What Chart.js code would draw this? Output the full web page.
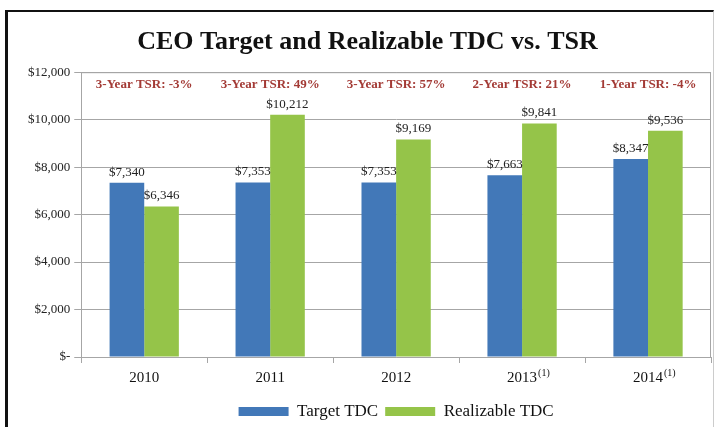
<!DOCTYPE html>
<html>
<head>
<meta charset="utf-8">
<script src="https://cdn.jsdelivr.net/npm/chart.js@4.4.0/dist/chart.umd.min.js"></script>
<style>
  html, body { margin: 0; padding: 0; background: #fff; }
  #frame {
    position: absolute; left: 5px; top: 10px; width: 709px; height: 417px;
    border-left: 3px solid #111; border-top: 2px solid #111; border-right: 1px solid #ccc;
    box-sizing: border-box; background: #fff;
  }
  #wrap { position: absolute; left: 0; top: 0; width: 705px; height: 415px; }
</style>
</head>
<body>
<div id="frame"><div id="wrap"><canvas id="chart"></canvas></div></div>
<script>
  // chart data
  const years = ["2010", "2011", "2012", "2013", "2014"];
  const yearNotes = ["", "", "", "(1)", "(1)"];
  const targetTDC = [7340, 7353, 7353, 7663, 8347];
  const realizableTDC = [6346, 10212, 9169, 9841, 9536];
  const tsrLabels = ["3-Year TSR: -3%", "3-Year TSR: 49%", "3-Year TSR: 57%", "2-Year TSR: 21%", "1-Year TSR: -4%"];
  const yTicks = [0, 2000, 4000, 6000, 8000, 10000, 12000];

  const SERIF = "'Liberation Serif', 'Times New Roman', serif";

  function money(v) {
    return v === 0 ? "$-" : "$" + v.toLocaleString("en-US");
  }

  const extras = {
    id: "extras",
    afterLayout(chart) {
      // centre the legend under the plot area, a little lower
      const lg = chart.legend, a = chart.chartArea;
      const dx = (a.left + a.right) / 2 - (lg.left + lg.right) / 2;
      lg.left += dx;
      lg.right += dx;
      lg.top += 3;
      lg.bottom += 3;
    },
    afterDatasetsDraw(chart) {
      const { ctx, chartArea: a } = chart;
      ctx.save();
      // plot border
      ctx.strokeStyle = "#a6a6a6";
      ctx.lineWidth = 1;
      ctx.beginPath();
      ctx.moveTo(a.left, a.top + 0.5);
      ctx.lineTo(a.right - 0.5, a.top + 0.5);
      ctx.lineTo(a.right - 0.5, a.bottom);
      ctx.stroke();

      // value labels
      ctx.font = "13px " + SERIF;
      ctx.fillStyle = "#222";
      ctx.textAlign = "center";
      ctx.textBaseline = "bottom";
      chart.data.datasets.forEach((ds, i) => {
        chart.getDatasetMeta(i).data.forEach((bar, j) => {
          ctx.fillText(money(ds.data[j]), bar.x, bar.y - 4);
        });
      });

      // TSR labels
      ctx.font = "bold 13px " + SERIF;
      ctx.fillStyle = "#a33a35";
      ctx.textBaseline = "middle";
      const xs = chart.scales.x;
      tsrLabels.forEach((t, j) => {
        ctx.fillText(t, xs.getPixelForValue(j), a.top + 12);
      });

      // footnote superscripts on year labels
      const base = xs.top + 6 + 6;
      yearNotes.forEach((n, j) => {
        if (!n) return;
        ctx.font = "15px " + SERIF;
        const w = ctx.measureText(years[j]).width;
        ctx.font = "10px " + SERIF;
        ctx.fillStyle = "#111";
        ctx.textAlign = "left";
        ctx.textBaseline = "top";
        ctx.fillText(n, xs.getPixelForValue(j) + w / 2 + 1, base - 1);
      });
      ctx.restore();
    }
  };

  new Chart(document.getElementById("chart"), {
    type: "bar",
    data: {
      labels: years,
      datasets: [
        { label: "Target TDC", data: targetTDC, backgroundColor: "#4278b8" },
        { label: "Realizable TDC", data: realizableTDC, backgroundColor: "#95c449" }
      ]
    },
    options: {
      responsive: true,
      maintainAspectRatio: false,
      animation: false,
      layout: { padding: { left: 16, right: 2, top: 0, bottom: 0 } },
      datasets: { bar: { categoryPercentage: 0.55, barPercentage: 1 } },
      plugins: {
        title: {
          display: true,
          text: "CEO Target and Realizable TDC vs. TSR",
          color: "#111",
          font: { family: SERIF, size: 26, weight: "bold" },
          padding: { top: 15, bottom: 14 }
        },
        legend: {
          position: "bottom",
          labels: {
            color: "#111",
            font: { family: SERIF, size: 17 },
            boxWidth: 50,
            boxHeight: 9,
            padding: 7
          }
        },
        tooltip: { enabled: false }
      },
      scales: {
        x: {
          grid: { display: true, drawOnChartArea: false, drawTicks: true, tickLength: 6, color: "#a6a6a6" },
          border: { color: "#a6a6a6" },
          ticks: { color: "#111", font: { family: SERIF, size: 15 }, padding: 6 }
        },
        y: {
          min: 0,
          max: 12000,
          afterBuildTicks(axis) { axis.ticks = yTicks.map((v) => ({ value: v })); },
          grid: { color: "#a6a6a6", tickLength: 7 },
          border: { color: "#a6a6a6" },
          ticks: { color: "#222", font: { family: SERIF, size: 13 }, padding: 4, callback: (v) => money(v) }
        }
      }
    },
    plugins: [extras]
  });
</script>
</body>
</html>
